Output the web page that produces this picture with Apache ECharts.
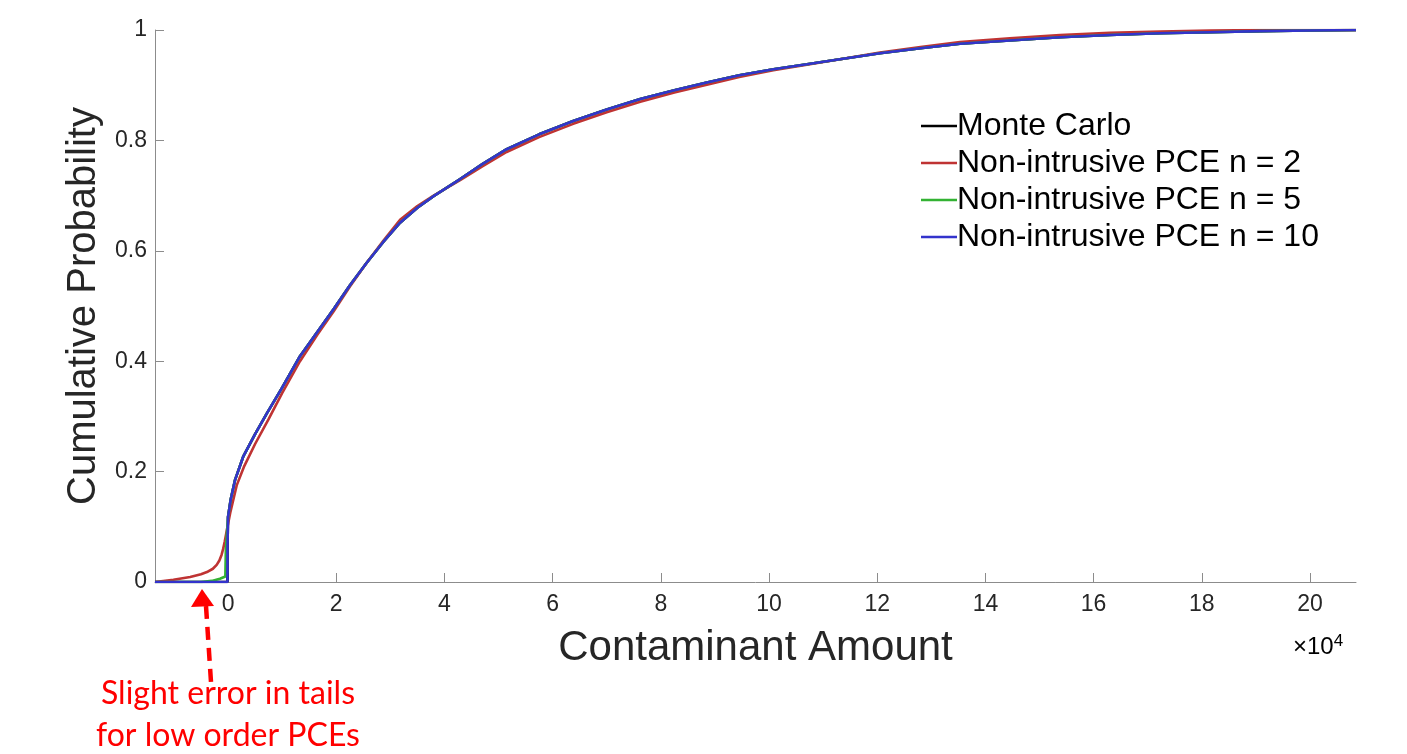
<!DOCTYPE html>
<html>
<head>
<meta charset="utf-8">
<script src="https://cdn.jsdelivr.net/npm/echarts@6/dist/echarts.min.js"></script>
<style>
html,body{margin:0;padding:0;background:#fff;}
#chart{width:1407px;height:754px;}
</style>
</head>
<body>
<div id="chart"></div>
<script>
// x values in units of 1e4
const seriesNames = ["Monte Carlo", "Non-intrusive PCE n = 2", "Non-intrusive PCE n = 5", "Non-intrusive PCE n = 10"];
const xTicks = [0, 2, 4, 6, 8, 10, 12, 14, 16, 18, 20];
const yTicks = [0, 0.2, 0.4, 0.6, 0.8, 1];

const mcX = [-1.35, -0.01, -0.01, 0, 0.05, 0.13, 0.28, 0.5, 0.72, 1.0, 1.33, 1.65, 1.95, 2.25, 2.56, 2.87, 3.18, 3.5, 3.8, 4.29, 4.7, 5.15, 5.75, 6.38, 7.0, 7.62, 8.25, 8.85, 9.45, 10.08, 10.7, 11.31, 12.05, 12.8, 13.53, 14.45, 15.38, 16.3, 17.23, 18.15, 19.08, 20.0, 20.85];
const mcY = [0, 0, 0.06, 0.118, 0.15, 0.185, 0.227, 0.268, 0.306, 0.352, 0.409, 0.453, 0.494, 0.537, 0.578, 0.616, 0.651, 0.678, 0.699, 0.730, 0.757, 0.784, 0.811, 0.835, 0.856, 0.875, 0.891, 0.905, 0.918, 0.929, 0.938, 0.947, 0.958, 0.967, 0.975, 0.981, 0.987, 0.991, 0.994, 0.996, 0.998, 0.999, 1.0];

const n2X = [-1.35, -1.01, -0.7, -0.5, -0.39, -0.28, -0.21, -0.16, -0.12, -0.09, -0.06, -0.035, -0.01, 0.04, 0.1, 0.16, 0.3, 0.5, 0.75, 1.0, 1.33, 1.65, 1.95, 2.25, 2.56, 2.87, 3.18, 3.5, 3.8, 4.29, 4.7, 5.15, 5.75, 6.38, 7.0, 7.62, 8.25, 8.85, 9.45, 10.08, 10.7, 11.31, 12.05, 12.8, 13.53, 14.45, 15.38, 16.3, 17.23, 18.15, 19.08, 20.85];
const n2Y = [0, 0.004, 0.009, 0.014, 0.018, 0.024, 0.031, 0.039, 0.049, 0.06, 0.074, 0.087, 0.10, 0.125, 0.15, 0.175, 0.21, 0.25, 0.295, 0.342, 0.4, 0.448, 0.49, 0.535, 0.578, 0.618, 0.656, 0.681, 0.7, 0.728, 0.753, 0.779, 0.806, 0.83, 0.851, 0.87, 0.887, 0.901, 0.915, 0.927, 0.937, 0.947, 0.959, 0.969, 0.978, 0.985, 0.991, 0.995, 0.997, 0.999, 1.0, 1.0];

const n5X = [-1.35, -0.5, -0.3, -0.15, -0.05, -0.04, 0, 0.05, 0.13, 0.28, 0.5, 0.72, 1.0, 1.33, 1.65, 1.95, 2.25, 2.56, 2.87, 3.18, 3.5, 3.8, 4.29, 4.7, 5.15, 5.75, 6.38, 7.0, 7.62, 8.25, 8.85, 9.45, 10.08, 10.7, 11.31, 12.05, 12.8, 13.53, 14.45, 15.38, 16.3, 17.23, 18.15, 19.08, 20.0, 20.85];
const n5Y = [0, 0, 0.002, 0.006, 0.01, 0.06, 0.118, 0.15, 0.185, 0.227, 0.268, 0.306, 0.352, 0.409, 0.453, 0.494, 0.537, 0.578, 0.616, 0.651, 0.678, 0.699, 0.730, 0.757, 0.784, 0.811, 0.835, 0.856, 0.875, 0.891, 0.905, 0.918, 0.929, 0.938, 0.947, 0.958, 0.967, 0.975, 0.981, 0.987, 0.991, 0.994, 0.996, 0.998, 0.999, 1.0];

const n10X = [-1.35, -0.01, -0.01, 0, 0.05, 0.13, 0.28, 0.5, 0.72, 1.0, 1.33, 1.65, 1.95, 2.25, 2.56, 2.87, 3.18, 3.5, 3.8, 4.29, 4.7, 5.15, 5.75, 6.38, 7.0, 7.62, 8.25, 8.85, 9.45, 10.08, 10.7, 11.31, 12.05, 12.8, 13.53, 14.45, 15.38, 16.3, 17.23, 18.15, 19.08, 20.0, 20.85];
const n10Y = [0, 0, 0.06, 0.118, 0.15, 0.185, 0.227, 0.268, 0.306, 0.352, 0.409, 0.453, 0.494, 0.537, 0.578, 0.616, 0.651, 0.678, 0.699, 0.730, 0.757, 0.784, 0.811, 0.835, 0.856, 0.875, 0.891, 0.905, 0.918, 0.929, 0.938, 0.947, 0.958, 0.967, 0.975, 0.981, 0.987, 0.991, 0.994, 0.996, 0.998, 0.999, 1.0];

const colors = ["#000000", "#bf3333", "#33b233", "#3333cc"];
const zip = (xs, ys) => xs.map((x, i) => [x, ys[i]]);
const allData = [zip(mcX, mcY), zip(n2X, n2Y), zip(n5X, n5Y), zip(n10X, n10Y)];

const chart = echarts.init(document.getElementById('chart'));
const fontFam = '"Liberation Sans", Arial, sans-serif';
const annFont = 'Lato, "Open Sans", sans-serif';
chart.setOption({
  animation: false,
  backgroundColor: '#ffffff',
  grid: { left: 155, right: 51, top: 30, bottom: 172, containLabel: false },
  legend: {
    orient: 'vertical',
    left: 916, top: 105,
    icon: 'rect', itemWidth: 36, itemHeight: 2.5, itemGap: 5,
    textStyle: { fontFamily: fontFam, fontSize: 32, color: '#000', padding: [0, 0, 0, -5] },
    data: seriesNames
  },
  xAxis: {
    type: 'value', min: -1.35, max: 20.85,
    name: 'Contaminant Amount', nameLocation: 'middle', nameGap: 45,
    nameTextStyle: { fontFamily: fontFam, fontSize: 42, color: '#262626' },
    axisLine: { onZero: false, lineStyle: { color: '#8c8c8c', width: 1 } },
    axisTick: { inside: true, length: 9, customValues: xTicks, lineStyle: { color: '#8c8c8c' } },
    axisLabel: { customValues: xTicks, margin: 11, fontFamily: fontFam, fontSize: 23, color: '#262626', formatter: v => String(Math.round(v)) },
    splitLine: { show: false }
  },
  yAxis: {
    type: 'value', min: 0, max: 1, interval: 0.2,
    name: 'Cumulative Probability', nameLocation: 'middle', nameGap: 47,
    nameTextStyle: { fontFamily: fontFam, fontSize: 40, color: '#262626' },
    axisLine: { show: true, onZero: false, lineStyle: { color: '#8c8c8c', width: 1 } },
    axisTick: { show: true, inside: true, length: 9, lineStyle: { color: '#8c8c8c' } },
    axisLabel: { margin: 8, fontFamily: fontFam, fontSize: 23, color: '#262626', formatter: v => String(+(+v).toFixed(1)) },
    splitLine: { show: false }
  },
  series: seriesNames.map((name, i) => ({
    name: name, type: 'line', data: allData[i], showSymbol: false, symbol: 'none',
    lineStyle: { color: colors[i], width: 2.6 }, itemStyle: { color: colors[i] },
    z: 2 + i
  })),
  graphic: [
    { type: 'text', left: 1293, top: 633, style: { text: '{a|×10}{b|4}', rich: { a: { fontFamily: fontFam, fontSize: 24, color: '#262626' }, b: { fontFamily: fontFam, fontSize: 17, color: '#262626', verticalAlign: 'top', padding: [0,0,12,0] } } } },
    { type: 'polygon', shape: { points: [[202, 589], [191, 607], [214, 606]] }, style: { fill: '#ff0000' } },
    { type: 'line', shape: { x1: 206, y1: 606, x2: 211, y2: 682 }, style: { stroke: '#ff0000', lineWidth: 4.5, lineDash: [13, 8] } },
    { type: 'text', position: [228, 694], style: { text: 'Slight error in tails', x: 0, y: 0, align: 'center', verticalAlign: 'middle', fontFamily: annFont, fontSize: 32, fill: '#ff0000' } },
    { type: 'text', position: [228, 736], style: { text: 'for low order PCEs', x: 0, y: 0, align: 'center', verticalAlign: 'middle', fontFamily: annFont, fontSize: 32, fill: '#ff0000' } }
  ]
});
</script>
</body>
</html>
